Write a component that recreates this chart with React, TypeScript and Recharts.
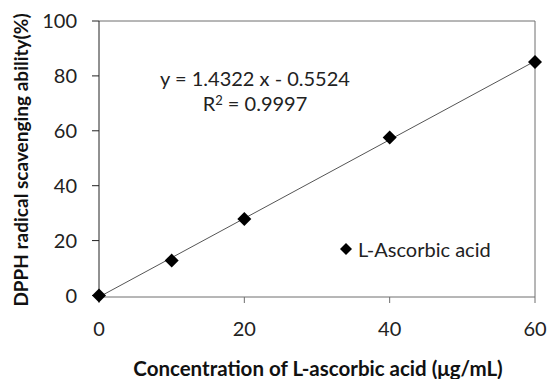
import React from 'react';
import { ScatterChart, Scatter, XAxis, YAxis, ReferenceLine } from 'recharts';

// measured DPPH scavenging of L-ascorbic acid
const concentrations = [0, 10, 20, 40, 60];
const scavenging = [0, 12.7, 27.9, 57.6, 85.1];

const xTicks = [0, 20, 40, 60];
const yTicks = [0, 20, 40, 60, 80, 100];

// linear trendline reported on the chart
const slope = 1.4322;
const intercept = -0.5524;
const rSquared = '0.9997';

const seriesName = 'L-Ascorbic acid';

const points = concentrations.map((x, i) => ({ x, y: scavenging[i] }));
const trend = [xTicks[0], xTicks[xTicks.length - 1]].map((x) => ({ x, y: slope * x + intercept }));

const FONT = 'Lato, "Open Sans", sans-serif';

const Diamond = (props: any) => {
  const { cx, cy } = props;
  const r = 7;
  return <polygon points={`${cx},${cy - r} ${cx + r},${cy} ${cx},${cy + r} ${cx - r},${cy}`} fill="#000" />;
};

const Nothing = () => <g />;

export default function App() {
  return (
    <div style={{ position: 'absolute', left: 0, top: 0, width: 549, height: 379, background: '#fff', fontFamily: FONT, overflow: 'hidden' }}>
      <ScatterChart width={549} height={379} margin={{ top: 21, right: 14, bottom: 0, left: 0 }}>
        <XAxis
          type="number"
          dataKey="x"
          domain={[0, 60]}
          ticks={xTicks}
          height={82}
          stroke="#6e6e6e"
          tickSize={6}
          tickMargin={19}
          tick={{ fill: '#222', fontSize: 20, fontFamily: FONT }}
          label={{
            content: () => (
              <text x={318} y={368} textAnchor="middle" dominantBaseline="central" fontFamily={FONT} fontSize={20.5} fontWeight="bold" fill="#111">
                Concentration of L-ascorbic acid (μg/mL)
              </text>
            ),
          }}
        />
        <YAxis
          type="number"
          dataKey="y"
          domain={[0, 100]}
          ticks={yTicks}
          width={99}
          stroke="#222"
          tickSize={7}
          tickMargin={15}
          tick={{ fill: '#222', fontSize: 20, fontFamily: FONT }}
          label={{
            content: () => (
              <text x={20} y={160} transform="rotate(-90, 20, 160)" textAnchor="middle" dominantBaseline="central" fontFamily={FONT} fontSize={19} fontWeight="bold" fill="#111">
                DPPH radical scavenging ability(%)
              </text>
            ),
          }}
        />
        <ReferenceLine y={100} stroke="#6e6e6e" />
        <ReferenceLine x={60} stroke="#6e6e6e" />
        <Scatter
          name="trend"
          data={trend}
          line={{ stroke: '#555', strokeWidth: 1 }}
          shape={Nothing}
          legendType="none"
          isAnimationActive={false}
        />
        <Scatter name={seriesName} data={points} shape={Diamond} fill="#000" isAnimationActive={false} />
      </ScatterChart>
      <div style={{ position: 'absolute', left: 155, width: 200, top: 67, textAlign: 'center', fontSize: 20, lineHeight: '22px', color: '#222' }}>
        <div>y = {slope} x - {Math.abs(intercept)}</div>
        <div>R<span style={{ fontSize: 13, verticalAlign: 6 }}>2</span> = {rSquared}</div>
      </div>
      <div style={{ position: 'absolute', left: 339, top: 237, display: 'flex', alignItems: 'center', fontSize: 20, lineHeight: '24px', color: '#222' }}>
        <svg width={14} height={14} style={{ marginRight: 5 }}>
          <polygon points="7,1 13,7 7,13 1,7" fill="#000" />
        </svg>
        <span>{seriesName}</span>
      </div>
    </div>
  );
}
